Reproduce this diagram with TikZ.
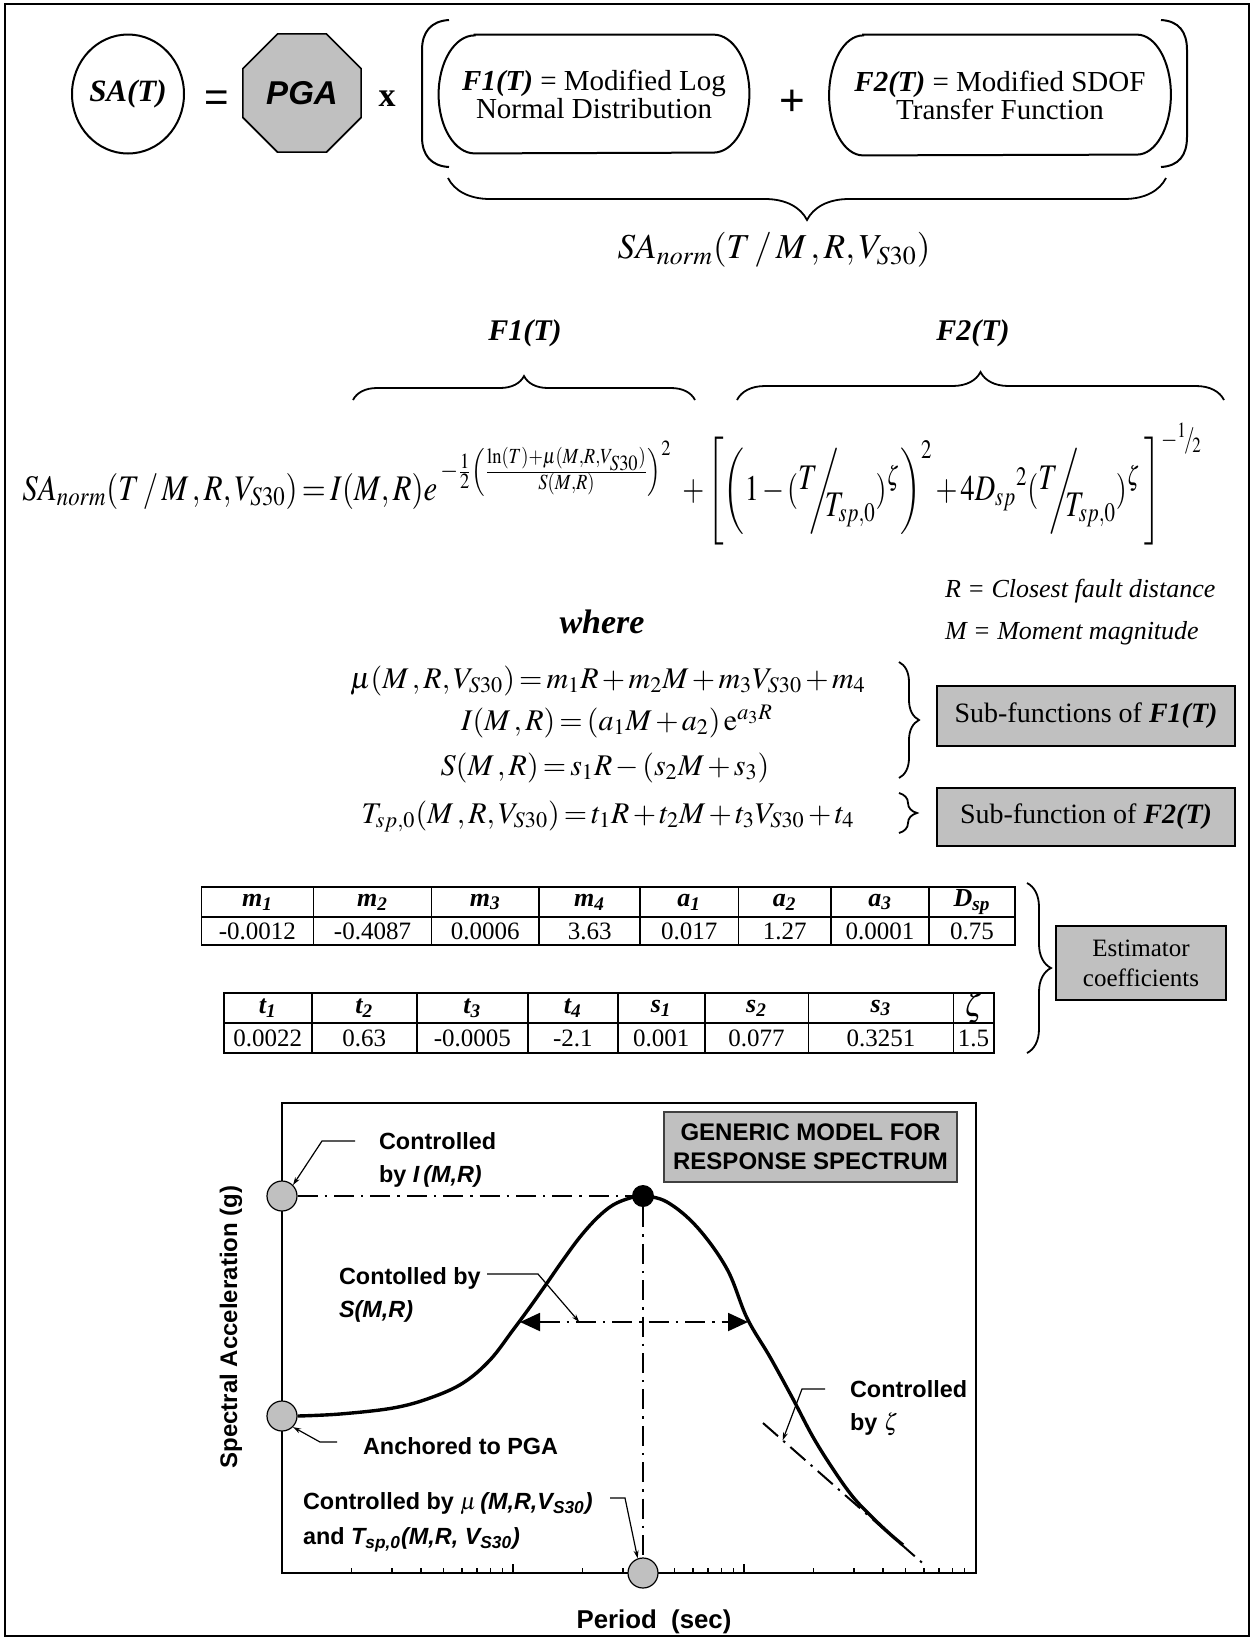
\documentclass[tikz,border=0pt]{standalone}
\usepackage{amsmath}
\usepackage{mathptmx}
\usepackage[no-math]{fontspec}
\setmainfont{Liberation Serif}
\newfontfamily\arial{Liberation Sans}
\usetikzlibrary{positioning,arrows.meta,shapes.geometric,decorations.pathreplacing,calc}
\definecolor{panel}{HTML}{C0C0C0}
\definecolor{rim}{HTML}{404040}
\newcommand{\slfrac}[2]{\raisebox{0.3em}{$#1$}\mkern-5mu\bigg/\mkern-9mu\raisebox{-0.45em}{$#2$}}
\newcommand{\bi}[1]{{\bfseries\itshape #1}}
\newcommand{\tightmath}{\thickmuskip=2.5mu plus 1mu\medmuskip=2mu plus 1mu}
% outline with elliptic ends round a named node (x radius #2, half height #3)
\newcommand{\pillpath}[3]{%
  \draw[line width=1pt] ($(#1.north west)+(#2,0)$) -- ($(#1.north east)+(-#2,0)$)
    arc[start angle=-90,end angle=90,x radius=#2,y radius=#3] -- ($(#1.south west)+(#2,0)$)
    arc[start angle=90,end angle=270,x radius=#2,y radius=#3] -- cycle;}

\begin{document}
\begin{tikzpicture}[x=0.5pt,y=-0.5pt,
  pill/.style={align=center,inner sep=0pt,font=\fontsize{14.5}{14}\selectfont},
  curly/.style={decorate,decoration={brace,amplitude=#1},line width=0.9pt},
  graybox/.style={draw,line width=0.8pt,fill=panel,minimum width=149pt,minimum height=30pt,align=center,font=\fontsize{14}{16}\selectfont},
  eqn/.style={anchor=base,font=\fontsize{15}{18}\selectfont},
  tabline/.style={line width=0.8pt},
  head/.style={font=\bfseries\itshape\fontsize{13}{14}\selectfont},
  cell/.style={font=\fontsize{12.5}{14}\selectfont},
  dashdot/.style={line width=1pt,dash pattern=on 10pt off 3.5pt on 1.2pt off 3.5pt},
  marker/.style={circle,draw,line width=0.6pt,fill=panel,minimum size=15pt,inner sep=0pt},
  note/.style={anchor=west,align=left,font=\arial\bfseries\fontsize{11.7}{16.5}\selectfont},
  leader/.style={line width=0.6pt,-{Stealth[length=4pt,width=2.5pt]}},
  ]
\useasboundingbox (0,0) rectangle (1253,1640);
\draw[line width=1pt] (5,4) rectangle (1249,1636);

% model in words
\node[ellipse,draw,line width=1pt,minimum width=56pt,minimum height=59.5pt,inner sep=0pt,
  font=\bfseries\itshape\fontsize{15.5}{16}\selectfont] (sat) at (128,94) {SA(T)};
\node[font=\arial\fontsize{21}{21}\selectfont] (eqs) at (217,101) {=};
\node[regular polygon,regular polygon sides=8,draw,fill=panel,line width=0.8pt,minimum size=64pt,inner sep=0pt,
  font=\arial\bfseries\itshape\fontsize{16.5}{17}\selectfont] (pga) at (302,93) {PGA};
\node[font=\bfseries\fontsize{17}{17}\selectfont] (times) at (387,99) {x};
\node[pill,minimum width=155pt,minimum height=59pt] (f1) at (594,94) {\bi{F1(T)} = Modified Log\\Normal Distribution};
\pillpath{f1}{36}{59}
\node[font=\arial\fontsize{22}{22}\selectfont] (plus) at (792,103) {+};
\node[pill,minimum width=170.5pt,minimum height=60pt] (f2) at (1000,95) {\bi{F2(T)} = Modified SDOF\\Transfer Function};
\pillpath{f2}{34}{60}
\draw[line width=1pt] (449,20) .. controls (431,21) and (422,32) .. (422,50) -- (422,137) .. controls (422,155) and (431,166) .. (449,167);
\draw[line width=1pt] (1161,20) .. controls (1179,21) and (1187,32) .. (1187,50) -- (1187,137) .. controls (1187,155) and (1179,166) .. (1161,167);
\draw[curly=21pt] (1166,178) -- (448,178);
\node[font=\fontsize{17.5}{17}\selectfont] (sanorm) at (774,250) {$SA_{norm}(T\,/\,M\,,R,V_{S30})$};

% the closed form
\node[font=\bfseries\itshape\fontsize{15}{15}\selectfont] (lf1) at (525,333) {F1(T)};
\node[font=\bfseries\itshape\fontsize{15}{15}\selectfont] (lf2) at (973,333) {F2(T)};
\draw[curly=12pt] (353,400) -- (695,400);
\draw[curly=14pt] (737,400) -- (1224,400);
\node[anchor=base west,inner sep=0pt,font=\fontsize{18}{18}\selectfont] (formL) at (22,500)
  {\resizebox{325pt}{\height}{\tightmath$\displaystyle SA_{norm}(T\,/\,M\,,R,V_{S30})=I(M,R)e^{\;-\frac{1}{2}\left(\frac{\ln(T)+\mu(M,R,V_{S30})}{S(M,R)}\right)^{2}}$}};
\node[anchor=base west,inner sep=0pt,font=\fontsize{18}{18}\selectfont] (formR) at (682,500)
  {\resizebox{260pt}{\height}{\tightmath$\displaystyle +\left[\left(1-(\slfrac{T}{T_{sp,0}})^{\zeta}\right)^{2}+4D_{sp}{}^{2}(\slfrac{T}{T_{sp,0}})^{\zeta}\;\right]^{-{}^{1}\!/\!{}_{2}}$}};

\node[anchor=west,font=\itshape\fontsize{13}{13}\selectfont] (defR) at (938,591) {R = Closest fault distance};
\node[anchor=west,font=\itshape\fontsize{13}{13}\selectfont] (defM) at (938,633) {M = Moment magnitude};
\node[font=\bfseries\itshape\fontsize{17}{17}\selectfont] (where) at (602,622) {where};

\node[eqn] (eqmu) at (608,688) {\tightmath$\mu(M\,,R,V_{S30})=m_1R+m_2M+m_3V_{S30}+m_4$};
\node[eqn] (eqI) at (617,730) {\tightmath$I(M\,,R)=(a_1M+a_2)\,\mathrm{e}^{a_3R}$};
\node[eqn] (eqS) at (605,775) {\tightmath$S(M\,,R)=s_1R-(s_2M+s_3)$};
\node[eqn] (eqT) at (608,823) {\tightmath$T_{sp,0}(M\,,R,V_{S30})=t_1R+t_2M+t_3V_{S30}+t_4$};
\draw[curly=10pt] (899,662) -- (899,778);
\draw[curly=9pt] (899,793) -- (899,833);
\node[graybox] (subF1) at (1086,716) {Sub-functions of \bi{F1(T)}};
\node[graybox,minimum height=29pt] (subF2) at (1086,817) {Sub-function of \bi{F2(T)}};

% coefficient tables
\foreach \xa/\xb/\hd/\vl [count=\i] in {201.3/313.6/{m\textsubscript{1}}/-0.0012, 313.6/431.4/{m\textsubscript{2}}/-0.4087,
    431.4/539.1/{m\textsubscript{3}}/0.0006, 539.1/640.2/{m\textsubscript{4}}/3.63, 640.2/738.4/{a\textsubscript{1}}/0.017,
    738.4/831/{a\textsubscript{2}}/1.27, 831/929.2/{a\textsubscript{3}}/0.0001, 929.2/1015/{D\textsubscript{sp}}/0.75}
{
  \draw[tabline] (\xa,887) rectangle (\xb,917) (\xa,917) rectangle (\xb,945);
  \node[head] (hA\i) at ({(\xa+\xb)/2},902) {\hd};
  \node[cell] (vA\i) at ({(\xa+\xb)/2},931) {\vl};
}
\foreach \xa/\xb/\hd/\vl [count=\i] in {223.8/311.9/{t\textsubscript{1}}/0.0022, 311.9/416.8/{t\textsubscript{2}}/0.63,
    416.8/527.9/{t\textsubscript{3}}/-0.0005, 527.9/617.7/{t\textsubscript{4}}/-2.1, 617.7/704.7/{s\textsubscript{1}}/0.001,
    704.7/808.5/{s\textsubscript{2}}/0.077, 808.5/953.3/{s\textsubscript{3}}/0.3251, 953.3/993.7/{\fontsize{16}{16}\selectfont$\zeta$}/1.5}
{
  \draw[tabline] (\xa,993) rectangle (\xb,1023) (\xa,1023) rectangle (\xb,1053);
  \node[head] (hB\i) at ({(\xa+\xb)/2},1008) {\hd};
  \node[cell] (vB\i) at ({(\xa+\xb)/2},1038) {\vl};
}
\draw[curly=12pt] (1027,883) -- (1027,1053);
\node[graybox,minimum width=85pt,minimum height=37pt,font=\fontsize{12.5}{15}\selectfont] (est) at (1141,963) {Estimator\\coefficients};

% generic spectrum
\draw[line width=1.3pt] (282,1103) rectangle (976,1573);
\foreach \d in {0,1,2}
  \foreach \k in {2,...,9}
    \draw[line width=0.8pt] ({282+231*(\d+log10(\k))},1573) -- ++(0,-5);
\foreach \d in {1,2}
  \draw[line width=0.8pt] ({282+231*\d},1573) -- ++(0,-9);

\node[marker] (cI) at (282,1196) {};
\node[marker] (cP) at (282,1416) {};
\node[marker] (cT) at (643,1573) {};
\node[circle,fill=black,minimum size=11pt,inner sep=0pt] (pk) at (643,1196) {};
\draw[dashdot] (cI) -- (pk);
\draw[dashdot] (pk) -- (cT);
\coordinate (sL) at (520,1322);
\coordinate (sR) at (748,1322);
\draw[dashdot,{Triangle[length=10pt,width=9pt]}-{Triangle[length=10pt,width=9pt]}] (sL) -- (sR);
\coordinate (tg1) at (763,1423);
\coordinate (tg2) at (927,1567);
\draw[dashdot] (tg1) -- (tg2);
\draw[line width=1.7pt] plot[smooth,tension=0.6] coordinates {(cP.east) (340,1414) (393,1408) (430,1398) (463,1383)
  (490,1360) (513,1330) (530,1307) (547,1283) (563,1260) (580,1237) (597,1218) (613,1205) (630,1198) (643,1196)
  (667,1202) (697,1227) (727,1269) (747,1318) (770,1357) (793,1399) (813,1437) (833,1469) (853,1497) (873,1518)
  (890,1534) (903,1545)};

\node[note] (lblI) at (372,1160) {Controlled\\by \textit{I\,(M,R)}};
\node[note] (lblS) at (332,1295) {Contolled by\\\textit{S(M,R)}};
\node[note] (lblP) at (356,1446) {Anchored to PGA};
\node[note,font=\arial\bfseries\fontsize{11.7}{17.5}\selectfont] (lblMu) at (296,1522)
  {Controlled by $\mu$\,\textit{(M,R,V\textsubscript{S30})}\\and \textit{T\textsubscript{sp,0}(M,R, V\textsubscript{S30})}};
\node[note] (lblZ) at (843,1408) {Controlled\\by $\zeta$};
\node[draw=rim,fill=panel,line width=0.8pt,minimum width=146.5pt,minimum height=35pt,align=center,
  font=\arial\bfseries\fontsize{12}{14.7}\selectfont] (title) at (810.5,1147) {GENERIC MODEL FOR\\RESPONSE SPECTRUM};
\node[rotate=90,font=\arial\bfseries\fontsize{12}{14}\selectfont] (ylab) at (231,1327) {Spectral Acceleration (g)};
\node[font=\arial\bfseries\fontsize{12.9}{14}\selectfont] (xlab) at (654,1622) {Period\ \ (sec)};

\coordinate (qI) at (355,1141);
\coordinate (qS) at (487,1274);
\coordinate (qP) at (337,1442);
\coordinate (qT) at (610,1498);
\coordinate (qZ) at (825,1389);
\draw[leader] (qI) -- ++(-33,0) -- (cI.north east);
\draw[leader] (qS) -- ++(51,0) -- ($(sL)!0.26!(sR)$);
\draw[leader] (qP) -- ++(-17,0) -- (cP.south east);
\draw[leader] (qT) -- ++(15,0) -- (cT.110);
\draw[leader] (qZ) -- ++(-23,0) -- ($(tg1)!0.12!(tg2)$);
\end{tikzpicture}
\end{document}
